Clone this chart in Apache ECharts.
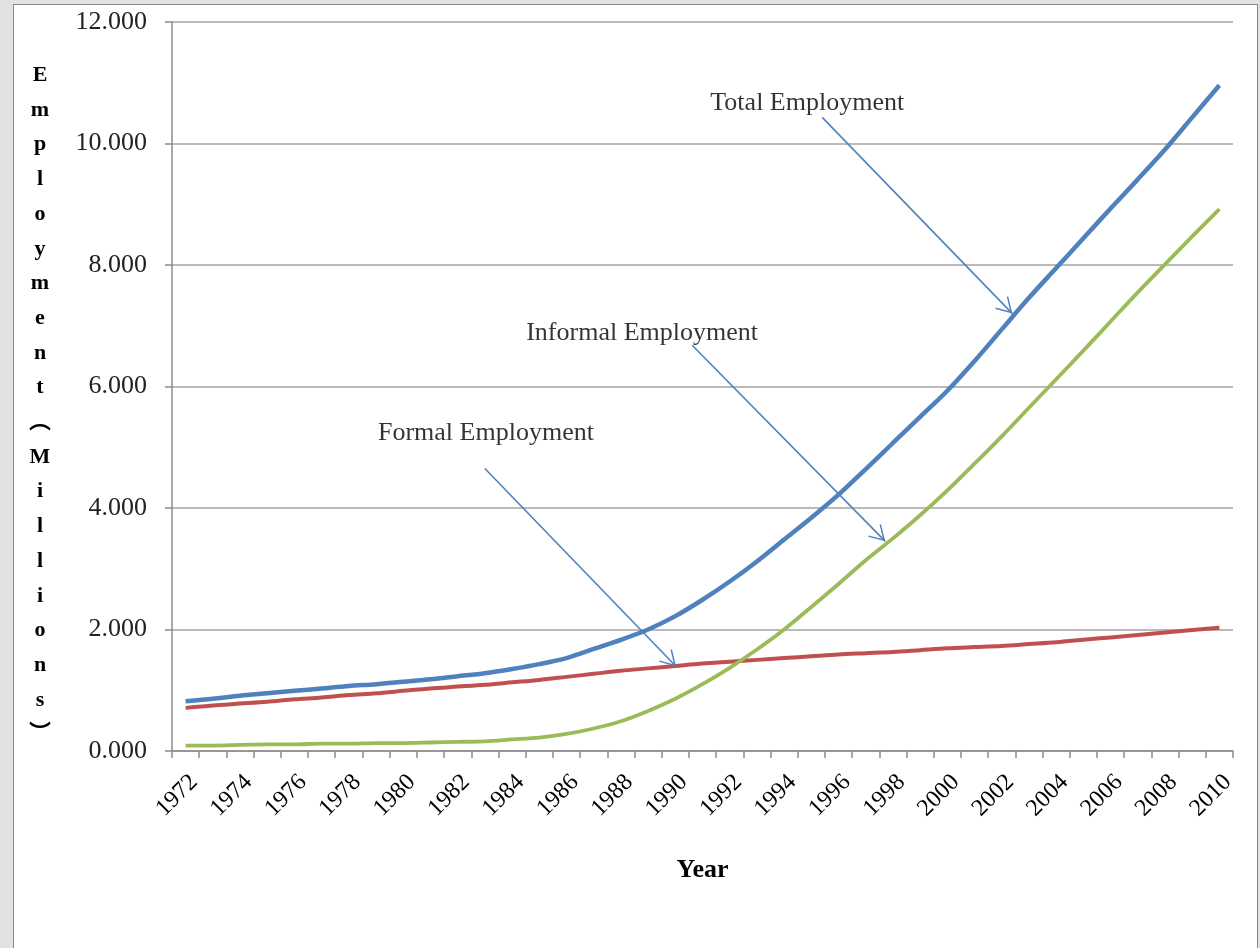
<!DOCTYPE html>
<html>
<head>
<meta charset="utf-8">
<title>Employment (Millions)</title>
<script src="https://cdn.jsdelivr.net/npm/echarts@6/dist/echarts.min.js"></script>
<style>
  html, body { margin: 0; padding: 0; width: 1260px; height: 948px; overflow: hidden; background: #e2e2e2; }
  #chart { position: absolute; left: 13px; top: 4px; width: 1243px; height: 950px; background: #fff; border: 1px solid #8a8a8a; }
</style>
</head>
<body>
<div id="chart"></div>
<script>
// Employment by type, 1972-2010 (millions)

const years = ['1972', '1973', '1974', '1975', '1976', '1977', '1978', '1979', '1980', '1981',
  '1982', '1983', '1984', '1985', '1986', '1987', '1988', '1989', '1990', '1991',
  '1992', '1993', '1994', '1995', '1996', '1997', '1998', '1999', '2000', '2001',
  '2002', '2003', '2004', '2005', '2006', '2007', '2008', '2009', '2010'];

const totalEmployment = [0.82, 0.86, 0.91, 0.95, 0.99, 1.03, 1.07, 1.10, 1.14, 1.18,
  1.23, 1.28, 1.35, 1.43, 1.53, 1.68, 1.83, 2.00, 2.22, 2.49,
  2.79, 3.12, 3.48, 3.84, 4.22, 4.64, 5.07, 5.50, 5.93, 6.42,
  6.94, 7.46, 7.95, 8.44, 8.93, 9.41, 9.90, 10.43, 10.96];

const formalEmployment = [0.71, 0.75, 0.78, 0.81, 0.85, 0.88, 0.92, 0.95, 0.99, 1.03,
  1.06, 1.09, 1.13, 1.17, 1.22, 1.27, 1.32, 1.36, 1.40, 1.44,
  1.47, 1.50, 1.53, 1.56, 1.59, 1.61, 1.63, 1.66, 1.69, 1.71,
  1.73, 1.76, 1.79, 1.83, 1.87, 1.91, 1.95, 1.99, 2.03];

const informalEmployment = [0.09, 0.09, 0.10, 0.11, 0.11, 0.12, 0.12, 0.13, 0.13, 0.14,
  0.15, 0.16, 0.19, 0.22, 0.28, 0.37, 0.49, 0.66, 0.86, 1.10,
  1.37, 1.67, 2.00, 2.37, 2.75, 3.14, 3.50, 3.88, 4.29, 4.73,
  5.18, 5.65, 6.12, 6.59, 7.07, 7.55, 8.01, 8.47, 8.92];

const yTicks = [0, 2, 4, 6, 8, 10, 12];

// callouts, in [year index, value] units
const calloutText = ['Total Employment', 'Informal Employment', 'Formal Employment'];
const calloutAt = [[22.85, 10.66], [16.78, 6.88], [11.04, 5.23]];
const arrowFrom = [[23.4, 10.43], [18.62, 6.68], [11.0, 4.65]];
const arrowTo = [[30.39, 7.20], [25.72, 3.45], [18.03, 1.39]];

const serif = '"Liberation Serif", "Times New Roman", serif';
const blue = '#4f81bd', red = '#c0504d', green = '#9bbb59';
const gridGray = '#a3a3a3';

// open arrow head in a square box; tip sits at the box centre
const openArrow = 'path://M10,0 L10.05,0.05 L9.95,0.05 Z M0,10 L0.05,10.05 L0,10.1 Z M20,10 L19.95,10.05 L20,10.1 Z ' +
  'M10,10 L15.6,19.4 L14.8,19.9 L10,11.8 L5.2,19.9 L4.4,19.4 Z';

const chart = echarts.init(document.getElementById('chart'));

const option = {
  animation: false,
  grid: { left: 158, top: 17, width: 1061, height: 729, containLabel: false },
  xAxis: [
    {
      type: 'category',
      data: years,
      boundaryGap: true,
      name: 'Year',
      nameLocation: 'middle',
      nameGap: 106,
      nameTextStyle: { fontFamily: serif, fontWeight: 'bold', fontSize: 26, color: '#000' },
      axisLine: { lineStyle: { color: '#8c8c8c', width: 1.5 } },
      axisTick: { show: true, interval: 0, length: 7, lineStyle: { color: '#8c8c8c', width: 1.5 } },
      axisLabel: {
        interval: 1, rotate: 45, margin: 19, verticalAlign: 'top',
        fontFamily: serif, fontSize: 24, color: '#000'
      },
      splitLine: { show: false }
    },
    { type: 'value', min: -0.5, max: 38.5, show: false }
  ],
  yAxis: {
    type: 'value',
    min: yTicks[0],
    max: yTicks[yTicks.length - 1],
    interval: 2,
    axisLine: { show: true, onZero: false, lineStyle: { color: '#8c8c8c', width: 1.5 } },
    axisTick: { show: true, length: 7, lineStyle: { color: '#8c8c8c', width: 1.5 } },
    axisLabel: { margin: 25, fontFamily: serif, fontSize: 26, color: '#222', formatter: v => v.toFixed(3) },
    splitLine: { lineStyle: { color: gridGray, width: 1.5 } }
  },
  graphic: [
    {
      type: 'text',
      x: 26,
      y: 53,
      style: {
        text: 'E\nm\np\nl\no\ny\nm\ne\nn\nt\n︵\nM\ni\nl\nl\ni\no\nn\ns\n︶',
        font: 'bold 22px "Liberation Serif", "Noto Sans CJK SC", serif',
        lineHeight: 34.7,
        align: 'center',
        verticalAlign: 'top',
        fill: '#000'
      }
    }
  ],
  series: [
    {
      name: 'Total Employment',
      type: 'line',
      data: totalEmployment,
      smooth: 0.3,
      symbol: 'none',
      z: 4,
      lineStyle: { color: blue, width: 4.5 },
      itemStyle: { color: blue }
    },
    {
      name: 'Formal Employment',
      type: 'line',
      data: formalEmployment,
      smooth: 0.3,
      symbol: 'none',
      z: 3,
      lineStyle: { color: red, width: 4 },
      itemStyle: { color: red }
    },
    {
      name: 'Informal Employment',
      type: 'line',
      data: informalEmployment,
      smooth: 0.3,
      symbol: 'none',
      z: 3,
      lineStyle: { color: green, width: 3.8 },
      itemStyle: { color: green }
    },
    {
      name: 'arrows',
      type: 'lines',
      coordinateSystem: 'cartesian2d',
      xAxisIndex: 1,
      yAxisIndex: 0,
      z: 5,
      silent: true,
      symbol: ['none', openArrow],
      symbolSize: 32,
      lineStyle: { color: blue, width: 1.6, opacity: 1 },
      data: arrowFrom.map((p, i) => ({ coords: [p, arrowTo[i]] }))
    },
    {
      name: 'callouts',
      type: 'scatter',
      xAxisIndex: 1,
      yAxisIndex: 0,
      z: 6,
      silent: true,
      symbolSize: 1,
      itemStyle: { color: 'rgba(0,0,0,0)' },
      label: {
        show: true,
        position: 'inside',
        formatter: p => calloutText[p.dataIndex],
        fontFamily: serif,
        fontSize: 26,
        color: '#000'
      },
      data: calloutAt
    }
  ]
};

chart.setOption(option);
</script>
</body>
</html>
